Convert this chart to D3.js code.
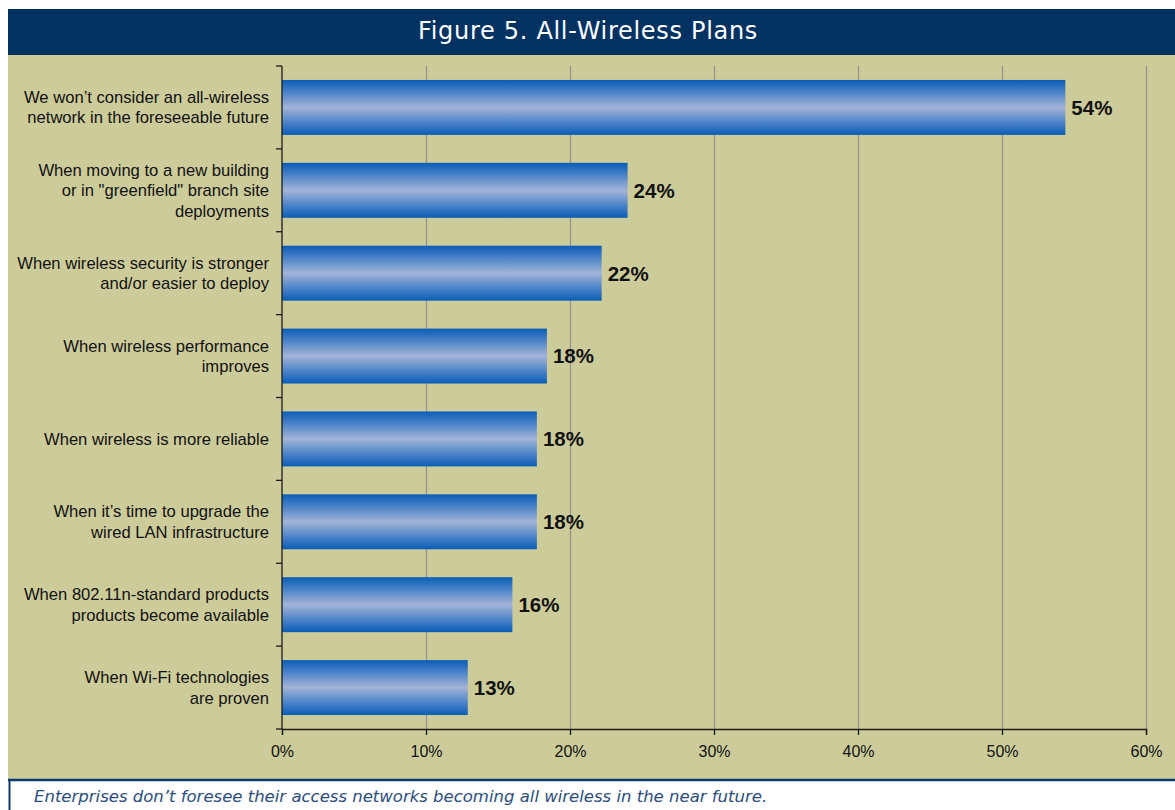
<!DOCTYPE html>
<html>
<head>
<meta charset="utf-8">
<script src="https://cdn.jsdelivr.net/npm/d3@7/dist/d3.min.js"></script>
<style>
  html, body { margin: 0; padding: 0; background: #ffffff; }
  svg { display: block; }
</style>
</head>
<body>
<svg id="chart" width="1175" height="810"></svg>
<script>
// Survey answers, one per bar (top to bottom)
const categories = [
  ["We won\u2019t consider an all-wireless", "network in the foreseeable future"],
  ["When moving to a new building", "or in \"greenfield\" branch site", "deployments"],
  ["When wireless security is stronger", "and/or easier to deploy"],
  ["When wireless performance", "improves"],
  ["When wireless is more reliable"],
  ["When it\u2019s time to upgrade the", "wired LAN infrastructure"],
  ["When 802.11n-standard products", "products become available"],
  ["When Wi-Fi technologies", "are proven"]
];
// Share of respondents, percent
const values = [54.4, 24.0, 22.2, 18.4, 17.7, 17.7, 16.0, 12.9];
// Horizontal axis ticks, percent
const xTicks = [0, 10, 20, 30, 40, 50, 60];

const titleText = "Figure 5. All-Wireless Plans";
const captionText = "Enterprises don\u2019t foresee their access networks becoming all wireless in the near future.";

const svg = d3.select("#chart");
const W = 1175, H = 810;
const navy = "#013261";
const khaki = "#cccc9a";

// Gradient for the cylinder-like bars
const defs = svg.append("defs");
const grad = defs.append("linearGradient")
  .attr("id", "barGrad").attr("x1", 0).attr("y1", 0).attr("x2", 0).attr("y2", 1);
[["0%", "#0a5db7"], ["22%", "#4a82c7"], ["50%", "#a2b4d8"], ["78%", "#4a82c7"], ["100%", "#0a5db7"]]
  .forEach(([o, c]) => grad.append("stop").attr("offset", o).attr("stop-color", c));

// Title bar
svg.append("rect").attr("x", 8).attr("y", 9).attr("width", W - 8).attr("height", 46).attr("fill", navy);
svg.append("text")
  .attr("x", 588).attr("y", 38.5)
  .attr("text-anchor", "middle")
  .attr("fill", "#ffffff")
  .style("font-family", "'DejaVu Sans', sans-serif")
  .style("font-size", "24px")
  .style("letter-spacing", "0.7px")
  .text(titleText);

// Plot background
svg.append("rect").attr("x", 8).attr("y", 55).attr("width", W - 8).attr("height", 724).attr("fill", khaki);

// Caption box
svg.append("line").attr("x1", 8).attr("x2", W).attr("y1", 780).attr("y2", 780)
  .attr("stroke", "#0d3a6e").attr("stroke-width", 2.5);
svg.append("line").attr("x1", 9.5).attr("x2", 9.5).attr("y1", 780).attr("y2", H)
  .attr("stroke", "#0d3a6e").attr("stroke-width", 2);
svg.append("text")
  .attr("x", 34).attr("y", 802)
  .attr("fill", "#2c4d7e")
  .style("font-family", "'DejaVu Sans', sans-serif")
  .style("font-style", "italic")
  .style("font-size", "16.5px")
  .text(captionText);

// Scales
const plotL = 282, plotR = 1146, plotT = 66, plotB = 729;
const x = d3.scaleLinear().domain([0, 60]).range([plotL, plotR]);
const y = d3.scaleBand()
  .domain(d3.range(categories.length))
  .range([plotT, plotB])
  .paddingInner(0.337)
  .paddingOuter(0.1685);

// Vertical gridlines
svg.append("g").selectAll("line")
  .data(xTicks.filter(t => t > 0))
  .join("line")
  .attr("x1", d => x(d) + 0.5).attr("x2", d => x(d) + 0.5)
  .attr("y1", plotT).attr("y2", plotB)
  .attr("stroke", "#929290").attr("stroke-width", 1.2);

// Bars
svg.append("g").selectAll("rect")
  .data(values)
  .join("rect")
  .attr("x", x(0))
  .attr("y", (d, i) => y(i))
  .attr("width", d => x(d) - x(0))
  .attr("height", y.bandwidth())
  .attr("fill", "url(#barGrad)");

// Value labels
svg.append("g").selectAll("text")
  .data(values)
  .join("text")
  .attr("x", d => x(d) + 6)
  .attr("y", (d, i) => y(i) + y.bandwidth() / 2)
  .attr("dy", "0.36em")
  .attr("fill", "#111111")
  .style("font-family", "'Liberation Sans', Arial, sans-serif")
  .style("font-weight", "bold")
  .style("font-size", "20.5px")
  .text(d => d3.format(".0f")(d) + "%");

// X axis
const xAxis = d3.axisBottom(x)
  .tickValues(xTicks)
  .tickFormat(d => d + "%")
  .tickSize(6)
  .tickPadding(11);
const gx = svg.append("g").attr("transform", `translate(0,${plotB})`).call(xAxis);
gx.select(".domain").attr("stroke", "#1a1a1a").attr("stroke-width", 1.3);
gx.selectAll(".tick line").attr("stroke", "#1a1a1a").attr("stroke-width", 1.3);
gx.selectAll(".tick text")
  .attr("fill", "#111111")
  .style("font-family", "'Liberation Sans', Arial, sans-serif")
  .style("font-size", "16px");

// Y axis: line with boundary ticks between categories
const yBounds = d3.range(categories.length + 1).map(i => plotT + i * y.step());
const gy = svg.append("g");
gy.append("line")
  .attr("x1", plotL).attr("x2", plotL).attr("y1", plotT).attr("y2", plotB)
  .attr("stroke", "#1a1a1a").attr("stroke-width", 1.3);
gy.selectAll("line.tk")
  .data(yBounds)
  .join("line").attr("class", "tk")
  .attr("x1", plotL - 6).attr("x2", plotL)
  .attr("y1", d => d).attr("y2", d => d)
  .attr("stroke", "#1a1a1a").attr("stroke-width", 1.3);

// Category labels (multi-line, right aligned)
const lineH = 20.5;
const labels = svg.append("g").selectAll("text")
  .data(categories)
  .join("text")
  .attr("text-anchor", "end")
  .attr("fill", "#111111")
  .style("font-family", "'Liberation Sans', Arial, sans-serif")
  .style("font-size", "16.6px")
  .attr("transform", (d, i) => `translate(269,${y(i) + y.bandwidth() / 2})`);
labels.each(function (lines) {
  const t = d3.select(this);
  const off = -(lines.length - 1) * lineH / 2;
  lines.forEach((ln, k) => {
    t.append("tspan")
      .attr("x", 0)
      .attr("y", off + k * lineH)
      .attr("dy", "0.35em")
      .text(ln);
  });
});
</script>
</body>
</html>
